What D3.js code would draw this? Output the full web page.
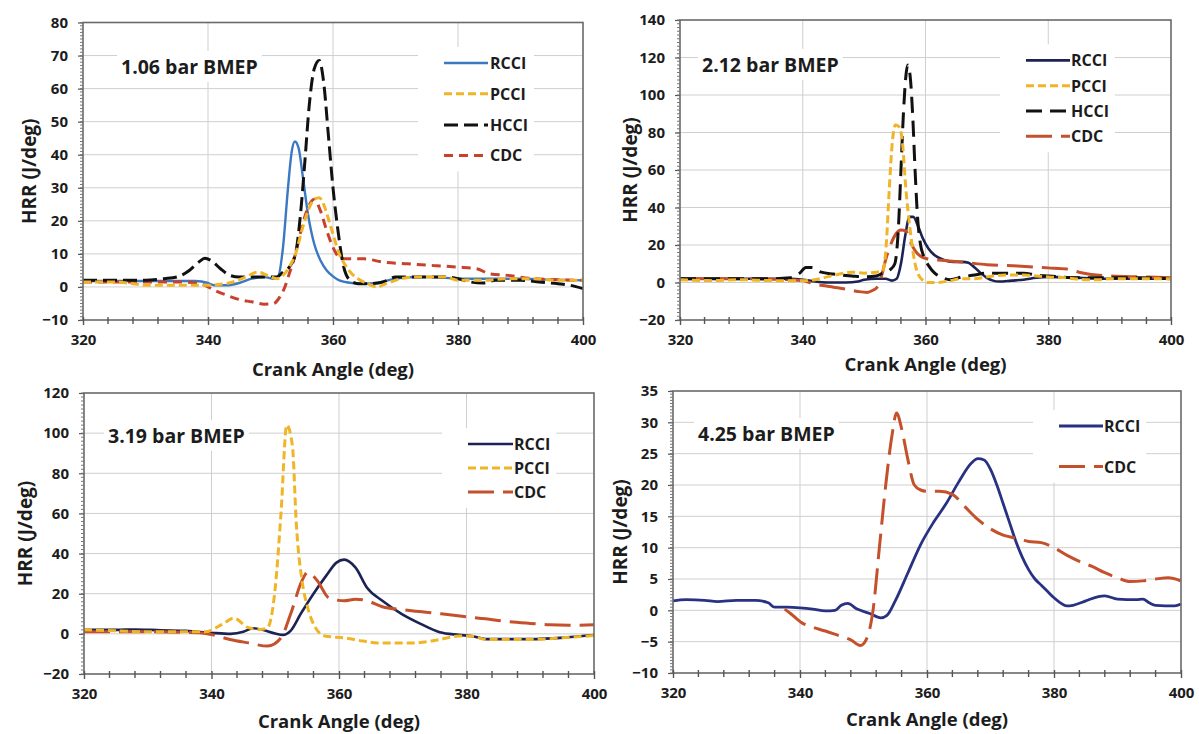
<!DOCTYPE html>
<html><head><meta charset="utf-8">
<script src="https://cdn.jsdelivr.net/npm/d3@7"></script>
<style>
body{margin:0;background:#fff}
svg{display:block}
text{font-family:"Open Sans",Lato,sans-serif;font-weight:700;fill:#1c1c1c}
</style>
</head><body><svg id="c" width="1199" height="734"></svg>
<script>
// ---------- data ----------
const xTicks = [320, 340, 360, 380, 400];
const yTicks1 = [-10, 0, 10, 20, 30, 40, 50, 60, 70, 80];
const yTicks2 = [-20, 0, 20, 40, 60, 80, 100, 120, 140];
const yTicks3 = [-20, 0, 20, 40, 60, 80, 100, 120];
const yTicks4 = [-10, -5, 0, 5, 10, 15, 20, 25, 30, 35];
const panelLabels = ["1.06 bar BMEP", "2.12 bar BMEP", "3.19 bar BMEP", "4.25 bar BMEP"];
const xTitle = "Crank Angle (deg)";
const yTitle = "HRR (J/deg)";

// panel 1 (1.06 bar)
const p1RCCI = [[320,1.8],[325,1.8],[330,1.8],[335,1.8],[338,1.8],[340,1.2],[341,0.5],[343,0.5],[345,1.2],[347,2.5],[349,3],[350.5,2.5],[351.2,3],[352,12],[352.8,30],[353.4,41],[353.9,44],[354.5,42],[355.2,33],[356,22],[357,13],[358,8],[359,5],[360,3.2],[361,2],[363,1.2],[365,1],[367,1.2],[370,2.5],[373,3],[376,3],[380,2.5],[385,2.5],[390,2.5],[395,2.2],[400,2]];
const p1PCCI = [[320,1.5],[325,1.5],[328,1],[330,0.5],[335,0.5],[340,0.5],[342,0.8],[344,1.5],[346,3],[348,4.5],[349.5,3.5],[351,2.5],[352,3.5],[353,6],[354,10],[355,17],[356,23],[357,26.5],[357.8,27],[358.5,25],[359.2,21],[360,16],[361,10],[362,6.5],[363,4],[364,2.5],[365.5,1],[367,0],[368.5,1],[370,2],[373,3],[376,3],[378,3],[380,2],[384,2],[388,2.5],[392,2.5],[396,2],[400,2]];
const p1HCCI = [[320,2],[325,2],[330,2],[333,2.5],[335,3],[337,5],[338.5,7.5],[339.5,8.7],[340.5,8],[342,5.5],[343.5,3.5],[345,3],[347,3],[349,3],[351,3],[352,4.5],[353,6],[354,10],[354.8,22],[355.5,38],[356.2,55],[357,66],[357.8,68.5],[358.5,62],[359.3,45],[360,30],[360.8,17],[361.6,7],[362.5,2.5],[364,1],[366,1],[368,1.5],[370,3],[372,3],[375,3],[378,3],[380,2.5],[382,1.5],[384,1.2],[386,2],[390,2],[393,1.5],[396,1],[398,0.5],[400,-0.5]];
const p1CDC = [[320,1.5],[325,1.5],[330,1.5],[335,1.5],[338,1.2],[339.5,0.5],[341,-1],[343,-2.5],[345,-3.8],[347,-4.5],[349,-5.2],[350.5,-5],[351.5,-3],[352.3,0],[353,4],[354,10],[355,18],[356,24],[357,26.5],[358,23],[359,17],[360,12],[361,9],[362,8.5],[365,8.5],[368,7.5],[372,7],[376,6.5],[380,6],[383,5.5],[385,4],[388,3.5],[392,2.5],[396,2.2],[400,2]];

// panel 2 (2.12 bar)
const p2RCCI = [[320,2],[325,2],[330,2],[335,2],[338,2],[340,1.5],[342,0.5],[344,0],[347,0],[349,0.5],[350,1.5],[352,2],[353.5,2],[354.5,1],[355.3,2],[356,10],[356.7,25],[357.4,35],[358,35],[358.8,30],[359.5,24],[360.5,18],[361.5,14.5],[363,12],[364.5,11],[366,11],[367,10.5],[368,8],[369,5],[370,2.5],[371,1],[372,0.5],[374,1],[376,1.5],[378,2.5],[380,3],[385,2.5],[390,2],[395,2],[400,2]];
const p2PCCI = [[320,1.5],[325,1],[330,1.5],[335,1],[340,1],[342,1.5],[344,3],[346,4.5],[348,5.5],[350,5],[352,5.5],[353,6],[353.6,20],[354.1,50],[354.6,75],[355.1,84],[355.7,83],[356.2,76],[356.8,50],[357.5,28],[358.3,10],[359.3,2],[360.5,0],[362,0],[364,1],[366,2],[368,2],[370,3],[373,4],[376,4],[378,3.5],[380,3],[383,2.5],[386,1.5],[388,1.5],[390,2],[395,2],[400,2]];
const p2HCCI = [[320,2],[325,2],[330,2],[335,2],[338,2.5],[339.5,5],[340.5,8],[341.5,8],[343,5.5],[345,4.5],[348,3.5],[350,3],[352,3.5],[353,5],[354.3,7],[355,10],[355.6,30],[356,60],[356.4,90],[356.8,110],[357.1,116],[357.5,110],[357.9,90],[358.3,60],[358.7,35],[359.2,20],[359.7,14],[360.5,9],[361.5,5],[362.5,3],[364,1.5],[366,3],[368,4],[370,5],[373,5],[376,5],[378,4],[380,3.5],[385,2.5],[390,2.5],[395,2.5],[400,2]];
const p2CDC = [[320,2],[330,2],[338,1.5],[340,1],[341.5,-0.5],[343,-1.5],[345,-2.5],[347,-3.5],[349,-4.8],[350.5,-5.3],[351.5,-4],[352,-3],[352.8,3],[353.5,12],[354.3,20],[355.2,26],[356,28],[356.8,27.5],[357.5,22],[358.3,17],[359.2,14],[360.5,12.5],[362,12],[365,11.2],[367,10.5],[370,9.5],[375,8.8],[380,7.8],[383,7.2],[385,5.5],[387,4.3],[390,3.5],[395,3],[400,2.5]];

// panel 3 (3.19 bar)
const p3RCCI = [[320,2],[325,2],[328,2.2],[332,1.8],[336,1.5],[340,0.5],[343,0],[345,1],[346.5,2.8],[348,2],[350,0.2],[351.2,-0.5],[352.4,1.5],[354,10],[356,20],[358,29],[359.6,35.5],[360.8,37],[362.6,33],[364.4,23],[366.8,16.5],[369.8,10],[372.8,5],[375.8,0.8],[378.8,-0.5],[381,-1.2],[383,-2.6],[390,-2.6],[395.5,-1.8],[400,-0.6]];
const p3PCCI = [[320,2],[325,1.5],[330,1],[335,1],[339,1],[341.7,4.8],[343.5,7.8],[345.8,3.1],[347.6,2.2],[348.8,3.1],[350,23],[350.9,60],[351.8,104],[352.7,93.5],[353.3,55],[354.2,26.5],[355.1,13],[356.3,3.1],[357.8,-1.1],[360.8,-2],[363.8,-3.6],[366,-4.5],[372,-4.5],[375.8,-2.8],[378.8,-1.1],[381,-1.2],[383,-2.8],[390,-2.8],[395,-2],[400,-0.8]];
const p3CDC = [[320,1],[330,1],[338,0.5],[339.9,-0.3],[342.9,-2.8],[345.8,-4.5],[348.8,-6.1],[350.9,-2],[352.4,9.8],[354.2,26.5],[355.1,30.7],[356.6,26.5],[358.4,18],[360.8,16.5],[362.6,17.3],[364.4,16.5],[366.8,13.5],[370,12],[373,11],[376,10],[380,8.5],[383,7.5],[386,6.3],[390,5.2],[393,4.5],[396,4.3],[400,4.5]];

// panel 4 (4.25 bar)
const p4RCCI = [[320,1.5],[322,1.7],[325,1.6],[327,1.4],[330,1.6],[333,1.6],[335,1.2],[336,0.5],[338,0.5],[340,0.4],[342,0.2],[344,-0.1],[345.5,0],[346.5,0.8],[347.5,1.1],[349,0.2],[351,-0.5],[352.7,-1.2],[353.7,-0.8],[355,1.5],[357,6],[359,10.5],[361,14],[363,17],[365,20.5],[367,23.5],[368,24.2],[369,24],[370,22.5],[371,20],[372,17],[373,14],[374,11],[375,8.5],[376,6.5],[377,5],[378,4],[379,3],[380,2],[381,1.2],[382,0.7],[383,0.8],[385,1.5],[387,2.2],[388,2.3],[390,1.8],[393,1.7],[394,1.8],[395,1.2],[396,0.8],[399,0.7],[400,1]];
const p4CDC = [[337.6,0.2],[338.5,-0.5],[340.3,-2],[342,-2.7],[344,-3.3],[346,-4],[348,-4.7],[349.5,-5.6],[350.5,-4.5],[351.5,0],[352.5,10],[353.5,20],[354.5,28],[355.2,31.5],[356,29],[357,24],[358,20],[359,19.2],[360,19],[362,19],[364,18.5],[366,16.5],[368,14.5],[370,13],[372,12],[374,11.5],[376,11],[378,10.8],[380,10],[382,8.8],[384,7.8],[386,7],[388,6],[390,5.2],[392,4.6],[394,4.7],[396,5],[398,5.2],[400,4.7]];

// ---------- styles & layout ----------
const ST = {
  RCCI1: {color:"#3a78c2", width:2.4, dash:null},
  RCCI:  {color:"#1c2354", width:2.6, dash:null},
  RCCI4: {color:"#283182", width:2.8, dash:null},
  PCCI:  {color:"#f0b526", width:3, dash:"8,4"},
  HCCI1: {color:"#111111", width:3, dash:"14,6"},
  HCCI2: {color:"#111111", width:3, dash:"16,8"},
  CDC1:  {color:"#c8412d", width:3, dash:"9,6"},
  CDC:   {color:"#c4502c", width:3, dash:"26,9"}
};

const panels = [
  {box:[83,583,22.5,320], yDom:[-10,80], yTicks:yTicks1, label:panelLabels[0], labelPos:[121,74],
   leg:{x0:444,x1:488,tx:490,rows:[63,93.7,125,155.4]}, xtY:376, ytX:36,
   series:[{n:"RCCI",d:p1RCCI,s:ST.RCCI1},{n:"CDC",d:p1CDC,s:ST.CDC1},{n:"HCCI",d:p1HCCI,s:ST.HCCI1},{n:"PCCI",d:p1PCCI,s:ST.PCCI}],
   legOrder:["RCCI","PCCI","HCCI","CDC"]},
  {box:[680,1171,20,320], yDom:[-20,140], yTicks:yTicks2, label:panelLabels[1], labelPos:[702,72],
   leg:{x0:1026,x1:1070,tx:1071,rows:[60.4,85.7,111,136.3]}, xtY:370.5, ytX:637,
   series:[{n:"RCCI",d:p2RCCI,s:ST.RCCI},{n:"CDC",d:p2CDC,s:ST.CDC},{n:"HCCI",d:p2HCCI,s:ST.HCCI2},{n:"PCCI",d:p2PCCI,s:ST.PCCI}],
   legOrder:["RCCI","PCCI","HCCI","CDC"]},
  {box:[84,594,393,674], yDom:[-20,120], yTicks:yTicks3, label:panelLabels[2], labelPos:[108,443],
   leg:{x0:468,x1:513,tx:514,rows:[444,468,492]}, xtY:728, ytX:32,
   series:[{n:"RCCI",d:p3RCCI,s:ST.RCCI},{n:"CDC",d:p3CDC,s:ST.CDC},{n:"PCCI",d:p3PCCI,s:ST.PCCI}],
   legOrder:["RCCI","PCCI","CDC"]},
  {box:[673,1181,391,673], yDom:[-10,35], yTicks:yTicks4, label:panelLabels[3], labelPos:[698,441],
   leg:{x0:1059,x1:1103,tx:1104,rows:[426,466.5]}, xtY:726, ytX:627,
   series:[{n:"RCCI",d:p4RCCI,s:ST.RCCI4},{n:"CDC",d:p4CDC,s:ST.CDC}],
   legOrder:["RCCI","CDC"]}
];

const FONT = "'Open Sans', Lato, sans-serif";
const svg = d3.select("#c");
svg.append("rect").attr("width",1199).attr("height",734).attr("fill","#fff");

panels.forEach(p => {
  const [L,R,T,B] = p.box;
  const x = d3.scaleLinear().domain([320,400]).range([L,R]);
  const y = d3.scaleLinear().domain(p.yDom).range([B,T]);
  const g = svg.append("g");
  const step = p.yTicks[1]-p.yTicks[0];

  // gridlines
  g.append("g").selectAll("line").data(p.yTicks.filter(v=>v!==p.yDom[0]&&v!==p.yDom[1])).join("line")
    .attr("x1",L).attr("x2",R).attr("y1",d=>y(d)).attr("y2",d=>y(d))
    .attr("stroke","#cfcfcf").attr("stroke-width",1);
  g.append("g").selectAll("line").data(xTicks.filter(v=>v!==320&&v!==400)).join("line")
    .attr("y1",T).attr("y2",B).attr("x1",d=>x(d)).attr("x2",d=>x(d))
    .attr("stroke","#cfcfcf").attr("stroke-width",1);

  // series
  const line = d3.line().x(d=>x(d[0])).y(d=>y(d[1])).curve(d3.curveMonotoneX);
  p.series.forEach(s => {
    g.append("path").datum(s.d).attr("d",line).attr("fill","none")
      .attr("stroke",s.s.color).attr("stroke-width",s.s.width)
      .attr("stroke-dasharray",s.s.dash).attr("stroke-linejoin","round");
  });

  // border
  g.append("rect").attr("x",L).attr("y",T).attr("width",R-L).attr("height",B-T)
    .attr("fill","none").attr("stroke","#6a6a6a").attr("stroke-width",1.6);

  // y axis ticks
  const yAxis = d3.axisLeft(y).tickValues(p.yTicks).tickSize(5).tickPadding(10);
  const ya = g.append("g").attr("transform",`translate(${L},0)`).call(yAxis);
  ya.select(".domain").remove();
  ya.selectAll(".tick line").attr("stroke","#555").attr("stroke-width",1.2);
  ya.selectAll(".tick text").attr("font-size",15).attr("font-family",FONT).attr("font-weight",700).attr("fill","#1c1c1c");
  const minorY = d3.range(p.yDom[0], p.yDom[1]+1e-9, step/10);
  g.append("g").selectAll("line").data(minorY).join("line")
    .attr("x1",L-3).attr("x2",L).attr("y1",d=>y(d)).attr("y2",d=>y(d))
    .attr("stroke","#777").attr("stroke-width",1);

  // x axis ticks
  const xAxis = d3.axisBottom(x).tickValues(xTicks).tickSize(5).tickPadding(9);
  const xa = g.append("g").attr("transform",`translate(0,${B})`).call(xAxis);
  xa.select(".domain").remove();
  xa.selectAll(".tick line").attr("stroke","#555").attr("stroke-width",1.4).attr("y1",-3);
  xa.selectAll(".tick text").attr("font-size",15).attr("font-family",FONT).attr("font-weight",700).attr("fill","#1c1c1c");
  const minorX = d3.range(320,400.001,4).filter(v=>!xTicks.includes(v));
  g.append("g").selectAll("line").data(minorX).join("line")
    .attr("x1",d=>x(d)).attr("x2",d=>x(d)).attr("y1",B-3).attr("y2",B+4)
    .attr("stroke","#555").attr("stroke-width",1.4);

  // titles
  g.append("text").attr("x",(L+R)/2).attr("y",p.xtY).attr("text-anchor","middle")
    .attr("font-size",18.5).text(xTitle);
  g.append("text").attr("transform",`translate(${p.ytX},${(T+B)/2}) rotate(-90)`)
    .attr("text-anchor","middle").attr("font-size",19).text(yTitle);

  // panel label with white box
  const lb = g.append("g");
  const lt = lb.append("text").attr("x",p.labelPos[0]).attr("y",p.labelPos[1]).attr("font-size",19.5).text(p.label);
  const bb = lt.node().getBBox();
  lb.insert("rect","text").attr("x",bb.x-4).attr("y",bb.y-2).attr("width",bb.width+8).attr("height",bb.height+4).attr("fill","#fff");

  // legend
  const lg = g.append("g");
  const styleOf = n => p.series.find(s=>s.n===n).s;
  const lbg = lg.append("rect").attr("fill","#fff");
  let maxX = 0;
  p.legOrder.forEach((n,i) => {
    const s = styleOf(n), yy = p.leg.rows[i];
    lg.append("line").attr("x1",p.leg.x0).attr("x2",p.leg.x1).attr("y1",yy).attr("y2",yy)
      .attr("stroke",s.color).attr("stroke-width",s.width).attr("stroke-dasharray",s.dash);
    const t = lg.append("text").attr("x",p.leg.tx).attr("y",yy+6).attr("font-size",16).text(n);
    const b = t.node().getBBox(); maxX = Math.max(maxX, b.x+b.width);
  });
  const r0 = p.leg.rows[0], r1 = p.leg.rows[p.leg.rows.length-1];
  lbg.attr("x",p.leg.x0-26).attr("y",r0-16).attr("width",maxX+6-(p.leg.x0-26)).attr("height",r1-r0+32);
});
</script></body></html>
